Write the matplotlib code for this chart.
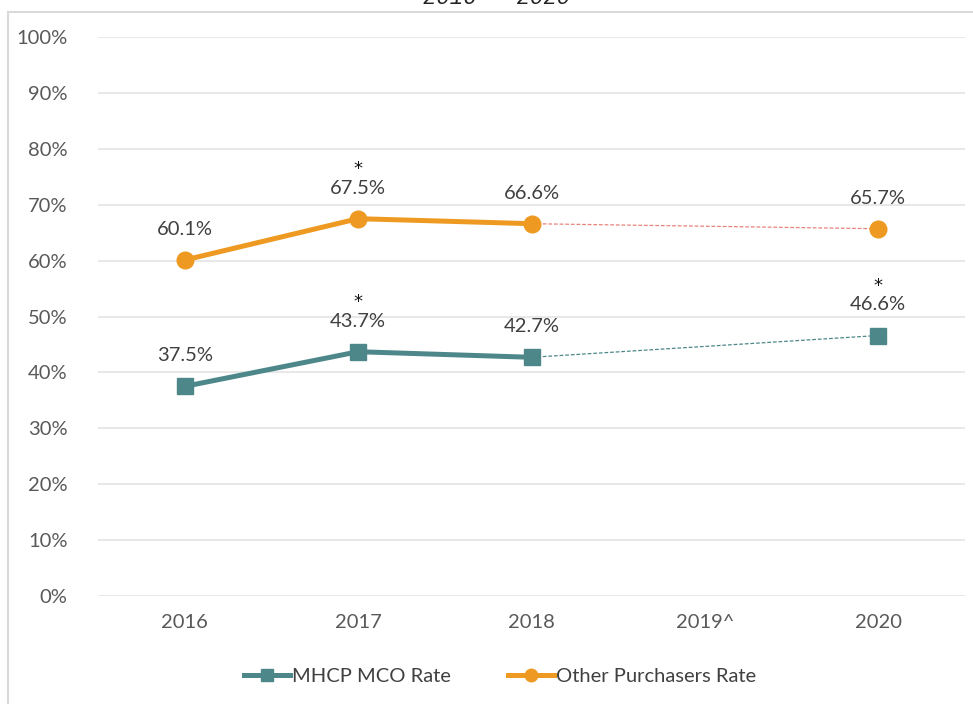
import numpy as np
import matplotlib
matplotlib.use("Agg")
import matplotlib.pyplot as plt
from matplotlib.patches import Rectangle
from matplotlib.lines import Line2D

categories = ["2016", "2017", "2018", "2019^", "2020"]
mhcp = [37.5, 43.7, 42.7, np.nan, 46.6]
other = [60.1, 67.5, 66.6, np.nan, 65.7]
mhcp_star = [False, True, False, False, True]
other_star = [False, True, False, False, False]
yticks = [0, 10, 20, 30, 40, 50, 60, 70, 80, 90, 100]
title = "2016 - 2020"

TEAL = "#4E8789"
ORANGE = "#EE9A22"
plt.rcParams['font.family'] = ['Lato', 'DejaVu Sans']
FS = 14.5

fig = plt.figure(figsize=(9.73, 7.04), dpi=100)
ax = fig.add_axes([98/973, 1-596/704, (965-98)/973, (596-37)/704])

x = np.arange(len(categories))

def solid_segment(vals):
    xs, ys = [], []
    for i, v in enumerate(vals):
        if np.isnan(v):
            break
        xs.append(i); ys.append(v)
    return xs, ys

def gap_segment(vals):
    valid = [i for i, v in enumerate(vals) if not np.isnan(v)]
    idx = [i for i in valid if i >= 2]
    return idx, [vals[i] for i in idx]

for vals, col, dcol, mk, ms in [(other, ORANGE, "#E8837A", "o", 12),
                                  (mhcp, TEAL, "#4E8789", "s", 11)]:
    gx, gy = gap_segment(vals)
    ax.plot(gx, gy, color=dcol, lw=0.9, ls=(0, (3, 1.5)), zorder=2)
    sx, sy = solid_segment(vals)
    ax.plot(sx, sy, color=col, lw=3.6, solid_capstyle='round', zorder=3)
    vx = [i for i, v in enumerate(vals) if not np.isnan(v)]
    vy = [vals[i] for i in vx]
    ax.plot(vx, vy, ls='none', marker=mk, ms=ms, color=col, zorder=4)

for vals, stars in [(other, other_star), (mhcp, mhcp_star)]:
    for i, v in enumerate(vals):
        if np.isnan(v):
            continue
        ax.annotate(f"{v:.1f}%", (i, v), xytext=(0, 22), textcoords='offset points',
                    ha='center', va='center', fontsize=FS, color='#404040')
        if stars[i]:
            ax.annotate("*", (i, v), xytext=(0, 36), textcoords='offset points',
                        ha='center', va='center', fontsize=13, color='#111111',
                        family='DejaVu Sans')

ax.set_xlim(-0.5, len(categories) - 0.5)
ax.set_ylim(0, 100)
ax.set_yticks(yticks)
ax.set_yticklabels([f"{t}%" for t in yticks])
ax.set_xticks(x)
ax.set_xticklabels(categories)
ax.grid(axis='y', color='#E8E8E8', lw=1.5)
ax.set_axisbelow(True)
for s in ax.spines.values():
    s.set_visible(False)
ax.tick_params(axis='both', length=0, labelsize=FS, labelcolor='#595959')
ax.tick_params(axis='y', pad=22)
ax.tick_params(axis='x', pad=13)

# frame
fig.patches.append(Rectangle((8/973, -0.01), 1.0, 1 - 12/704 + 0.01, transform=fig.transFigure,
                             fill=False, edgecolor='#D9D9D9', lw=1.5, zorder=0))

fig.text(497/973, 1 - 4/704, title, ha='center', va='baseline', fontsize=16,
         family=['Liberation Mono', 'DejaVu Sans Mono'], style='italic', color='#222222')

handles = [Line2D([], [], color=TEAL, lw=3.6, marker='s', ms=9),
           Line2D([], [], color=ORANGE, lw=3.6, marker='o', ms=9)]
fig.legend(handles, ["MHCP MCO Rate", "Other Purchasers Rate"], loc='center',
           bbox_to_anchor=(500/973, 1 - 676/704), ncol=2, frameon=False,
           fontsize=FS, labelcolor='#404040', handlelength=2.3, handletextpad=0.1,
           columnspacing=2.8)

fig.savefig("out.png", dpi=100)
